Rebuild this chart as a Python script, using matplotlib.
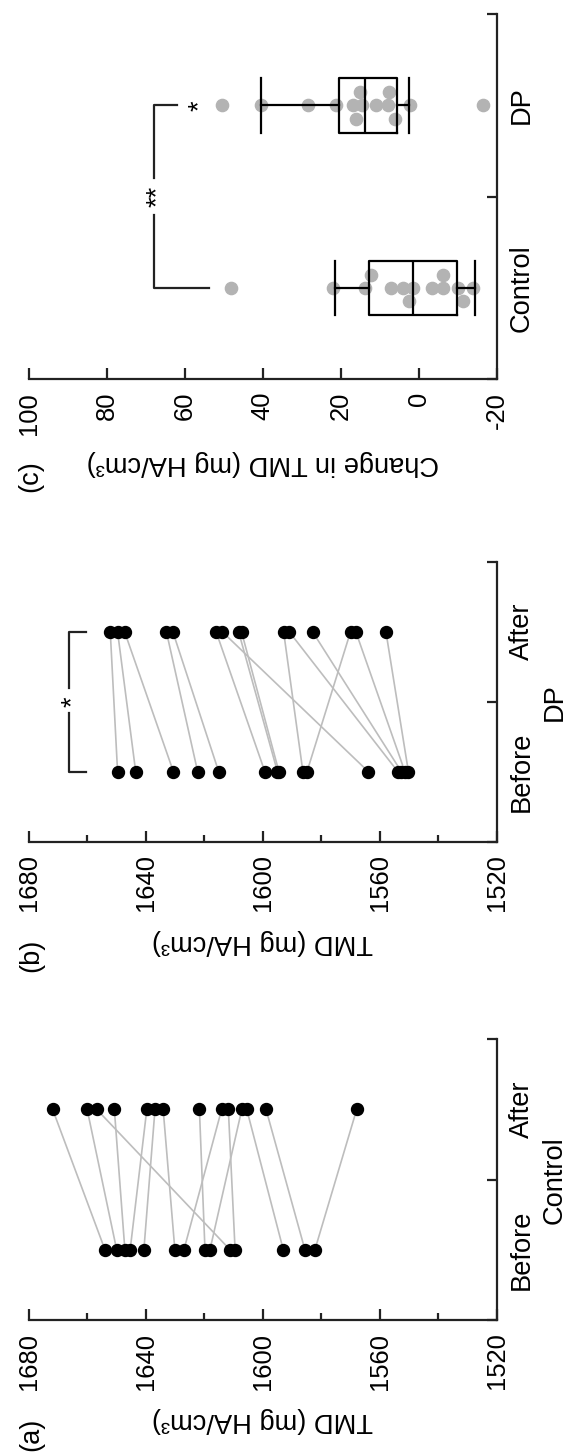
import matplotlib
matplotlib.use('Agg')
import matplotlib.pyplot as plt
import numpy as np

plt.rcParams['font.family'] = ['Liberation Sans', 'DejaVu Sans']

# ---------------- data ----------------
# (a) Control: TMD before / after (paired, same order)
ctrl_before = [1654.0, 1650.0, 1647.2, 1645.4, 1640.7, 1630.1, 1619.8,
               1627.0, 1618.1, 1611.2, 1609.5, 1593.0, 1585.6, 1582.2]
ctrl_after = [1671.9, 1660.1, 1650.8, 1639.7, 1636.9, 1634.1, 1621.7,
              1614.1, 1607.2, 1656.8, 1611.8, 1605.5, 1598.9, 1567.9]

# (b) DP: TMD before / after (paired, same order)
dp_before = [1649.7, 1643.5, 1630.6, 1622.3, 1615.1, 1599.3, 1563.9,
             1595.0, 1594.5, 1586.3, 1553.8, 1552.6, 1584.9, 1551.4, 1550.2]
dp_after = [1652.2, 1649.7, 1647.3, 1633.0, 1630.8, 1616.0, 1613.9,
            1608.3, 1607.3, 1592.9, 1591.0, 1583.0, 1570.0, 1568.2, 1557.9]

# (c) change in TMD
ctrl_change = [48.2, 22.1, 13.8, 7.1, 4.0, 1.4, -3.3, -6.3, -10.1, -14.0,
               12.3, 2.4, -6.1, -11.3]
dp_change = [50.6, 40.6, 28.5, 21.2, 16.8, 14.6, 11.0, 7.8, 2.2, -16.4,
             15.1, 16.1, 7.6, 6.1]

# box statistics (whislo, q1, med, q3, whishi)
ctrl_box = [-14.4, -9.7, 1.5, 12.8, 21.5]
dp_box = [2.5, 5.5, 13.8, 20.5, 40.6]

time_labels = ['Before', 'After']
group_labels = ['Control', 'DP']
tmd_ticks = [1680, 1640, 1600, 1560, 1520]
change_ticks = [100, 80, 60, 40, 20, 0, -20]

# ---------------- layout ----------------
W, H, DPI = 567, 1454, 100
fig = plt.figure(figsize=(W / DPI, H / DPI), dpi=DPI)

AX_COLOR = '#222222'
TICK_FS = 18.4
LAB_FS = 19.6
LINE_GREY = '#bdbdbd'
DOT_GREY = '#b3b3b3'


def px_axes(x0, x1, ytop, ybot):
    return fig.add_axes([x0 / W, 1 - ybot / H, (x1 - x0) / W, (ybot - ytop) / H])


def style_axes(ax, vmax, vmin, major, minor=None):
    ax.set_xlim(vmax, vmin)
    ax.set_ylim(0, 2)
    for s in ['top', 'left']:
        ax.spines[s].set_visible(False)
    for s in ['bottom', 'right']:
        ax.spines[s].set_linewidth(1.6)
        ax.spines[s].set_color(AX_COLOR)
    ax.xaxis.set_ticks_position('bottom')
    ax.set_xticks(major)
    ax.set_xticklabels([str(t) for t in major], rotation=90)
    if minor is not None:
        ax.set_xticks(minor, minor=True)
    ax.tick_params(axis='x', which='major', direction='in', length=8.2,
                   width=1.6, color=AX_COLOR, pad=9.0, labelsize=TICK_FS)
    ax.tick_params(axis='x', which='minor', direction='in', length=4.8,
                   width=1.6, color=AX_COLOR)
    ax.yaxis.set_ticks_position('right')
    ax.set_yticks([0, 1, 2])
    ax.set_yticklabels([])
    ax.tick_params(axis='y', which='major', direction='in', length=7.2,
                   width=1.6, color=AX_COLOR)
    ax.set_facecolor('none')


def paired(ax, before, after):
    for b, a in zip(before, after):
        ax.plot([b, a], [0.5, 1.5], color=LINE_GREY, lw=1.2, zorder=1,
                solid_capstyle='round')
    ax.plot(before, [0.5] * len(before), 'o', color='black', ms=8.6,
            mec='black', zorder=3, clip_on=False)
    ax.plot(after, [1.5] * len(after), 'o', color='black', ms=8.6,
            mec='black', zorder=3, clip_on=False)


def cat_labels(ax, centers_y, labels, group=None):
    for y, lab in zip(centers_y, labels):
        ax.text(1.0535, y, lab, transform=ax.transAxes, rotation=90,
                ha='center', va='center', fontsize=LAB_FS)
    if group is not None:
        ax.text(1.1236, 0.5, group, transform=ax.transAxes, rotation=90,
                ha='center', va='center', fontsize=LAB_FS)


tmd_minor = [1660, 1620, 1580, 1540]

# ---- panel (a)
axa = px_axes(29, 496.7, 1039.3, 1320)
style_axes(axa, 1680, 1520, tmd_ticks, tmd_minor)
paired(axa, ctrl_before, ctrl_after)
cat_labels(axa, [0.25, 0.75], time_labels, group_labels[0])
axa.set_xlabel('TMD (mg HA/cm³)', rotation=180, fontsize=LAB_FS,
               va='center', ha='center')
axa.xaxis.set_label_coords(0.5, -100 / 280.7)
fig.text(31 / W, 1 - 1434 / H, '(a)', rotation=90, ha='center', va='center',
         fontsize=LAB_FS)

# ---- panel (b)
axb = px_axes(29, 496.7, 561.7, 841.7)
style_axes(axb, 1680, 1520, tmd_ticks, tmd_minor)
paired(axb, dp_before, dp_after)
cat_labels(axb, [0.25, 0.75], time_labels, group_labels[1])
axb.set_xlabel('TMD (mg HA/cm³)', rotation=180, fontsize=LAB_FS,
               va='center', ha='center')
axb.xaxis.set_label_coords(0.5, -100 / 280)
fig.text(31 / W, 1 - 955.7 / H, '(b)', rotation=90, ha='center', va='center',
         fontsize=LAB_FS)
# significance bracket
bx, barm = 1666.3, 1660.5
axb.plot([barm, bx, bx], [1.5, 1.5, 1.10], color=AX_COLOR, lw=1.6,
         clip_on=False)
axb.plot([bx, bx, barm], [0.92, 0.5, 0.5], color=AX_COLOR, lw=1.6,
         clip_on=False)
axb.text(1665.0, 1.0, '*', rotation=90, ha='center', va='center',
         fontsize=LAB_FS, clip_on=False)

# ---- panel (c)
axc = px_axes(29, 496.7, 14, 379.3)
style_axes(axc, 100, -20, change_ticks)
axc.set_xlabel('Change in TMD (mg HA/cm³)', rotation=180, fontsize=LAB_FS,
               va='center', ha='center')
axc.xaxis.set_label_coords(0.5, -83.7 / 365.3)
fig.text(30 / W, 1 - 476 / H, '(c)', rotation=90, ha='center', va='center',
         fontsize=LAB_FS)
cat_labels(axc, [0.25, 0.75], group_labels)

# swarm layout (greedy, alternating side for displaced points)
px_per_unit = 467.7 / 120.0
dot_d = 12.3
row_step_px = 13.3
row_step = row_step_px / 182.65  # in category data units


def swarm(values, thresh_px=8.0):
    placed = []
    offs = []
    side = 1
    for v in values:
        cands = [0]
        k = 1
        while k < 5:
            cands += [side * k, -side * k]
            k += 1
        chosen = None
        for c in cands:
            ok = True
            for (pv, pc) in placed:
                dx = (v - pv) * px_per_unit
                dy = (c - pc) * row_step_px
                if np.hypot(dx, dy) < thresh_px:
                    ok = False
                    break
            if ok:
                chosen = c
                break
        if chosen != 0:
            side = -side
        placed.append((v, chosen))
        offs.append(chosen)
    return np.array(offs)


for vals, ypos in [(ctrl_change, 0.5), (dp_change, 1.5)]:
    offs = swarm(vals)
    axc.plot(vals, ypos + offs * row_step, 'o', color=DOT_GREY, mec=DOT_GREY,
             ms=8.8, zorder=1)

stats = []
for lab, bx_ in zip(group_labels, [ctrl_box, dp_box]):
    stats.append(dict(label=lab, whislo=bx_[0], q1=bx_[1], med=bx_[2],
                      q3=bx_[3], whishi=bx_[4], fliers=[]))
lp = dict(color='black', lw=1.6)
axc.bxp(stats, positions=[0.5, 1.5], widths=0.30, capwidths=0.30,
        orientation='horizontal', showfliers=False, boxprops=lp,
        whiskerprops=lp, capprops=lp, medianprops=lp, manage_ticks=False,
        zorder=3)
axc.set_ylim(0, 2)
axc.set_yticks([0, 1, 2])
axc.set_yticklabels([])

# significance bracket (c)
cx = 67.85
axc.plot([62.1, cx, cx], [1.5, 1.5, 1.10], color=AX_COLOR, lw=1.6)
axc.plot([cx, cx, 53.9], [0.90, 0.5, 0.5], color=AX_COLOR, lw=1.6)
axc.text(67.0, 1.0, '**', rotation=90, ha='center', va='center',
         fontsize=LAB_FS)
axc.text(56.1, 1.5, '*', rotation=90, ha='center', va='center',
         fontsize=LAB_FS)

fig.savefig('out.png', dpi=DPI)
